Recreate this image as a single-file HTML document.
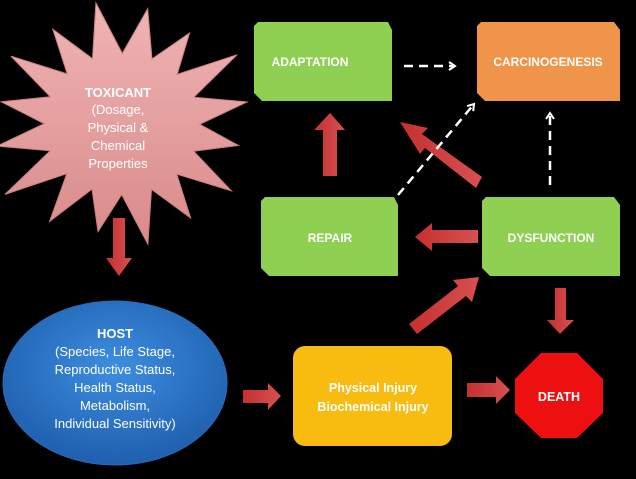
<!DOCTYPE html>
<html><head><meta charset="utf-8"><style>
html,body{margin:0;padding:0;background:#000;width:636px;height:479px;overflow:hidden}
svg{display:block}
text{font-family:"Liberation Sans",sans-serif;fill:#fff;text-anchor:middle}
.b{font-weight:bold}
.n{font-weight:normal}
</style></head><body>
<svg width="636" height="479" viewBox="0 0 636 479" xmlns="http://www.w3.org/2000/svg">
<defs>
<linearGradient id="pk" x1="0" y1="0" x2="0" y2="1"><stop offset="0" stop-color="#f0b4b4"/><stop offset="1" stop-color="#d98a8a"/></linearGradient>
<radialGradient id="bl" cx="0.5" cy="0.4" r="0.6"><stop offset="0" stop-color="#3d8ee0"/><stop offset="1" stop-color="#1f5fae"/></radialGradient>
<linearGradient id="ar" x1="0" y1="0" x2="1" y2="0"><stop offset="0" stop-color="#c43030"/><stop offset="1" stop-color="#d85050"/></linearGradient>
<marker id="wh" markerWidth="10" markerHeight="10" refX="7" refY="5" orient="auto" markerUnits="userSpaceOnUse"><path d="M1,1 L7,5 L1,9" fill="none" stroke="#fff" stroke-width="2"/></marker>
</defs>
<polygon id="star" fill="url(#pk)" stroke="#c98080" stroke-width="1"/>
<text class="b" x="118" y="97" font-size="13">TOXICANT</text>
<text class="n" x="118" y="114" font-size="13">(Dosage,</text>
<text class="n" x="118" y="132" font-size="13">Physical &amp;</text>
<text class="n" x="118" y="150" font-size="13">Chemical</text>
<text class="n" x="118" y="168" font-size="13">Properties</text>

<ellipse cx="115" cy="383" rx="112" ry="82" fill="url(#bl)" stroke="#2a6cbc"/>
<text class="b" x="115" y="338" font-size="13">HOST</text>
<text class="n" x="115" y="356" font-size="13">(Species, Life Stage,</text>
<text class="n" x="115" y="374" font-size="13">Reproductive Status,</text>
<text class="n" x="115" y="392" font-size="13">Health Status,</text>
<text class="n" x="115" y="410" font-size="13">Metabolism,</text>
<text class="n" x="115" y="428" font-size="13">Individual Sensitivity)</text>

<g>
<polygon points="258,22 388,22 392,30 392,101 262,101 254,93 254,26" fill="#8fcf52"/>
<text class="b" x="310" y="66" font-size="12">ADAPTATION</text>
<polygon points="481,22 614,22 620,30 620,101 485,101 477,93 477,26" fill="#f0944a"/>
<text class="b" x="548" y="66" font-size="12">CARCINOGENESIS</text>
<polygon points="265,197 394,197 398,205 398,276 269,276 261,268 261,201" fill="#8fcf52"/>
<text class="b" x="330" y="242" font-size="12">REPAIR</text>
<polygon points="486,197 614,197 620,205 620,276 490,276 482,268 482,201" fill="#8fcf52"/>
<text class="b" x="551" y="242" font-size="12">DYSFUNCTION</text>
</g>
<rect x="293" y="346" width="159" height="100" rx="12" fill="#f8bb10"/>
<text class="b" x="373" y="392" font-size="12.5">Physical Injury</text>
<text class="b" x="373" y="411" font-size="12.5">Biochemical Injury</text>
<polygon points="541,353 577,353 603,379 603,413 577,438 541,438 515,413 515,379" fill="#ee1010"/>
<text class="b" x="559" y="401" font-size="12.5">DEATH</text>

<g fill="url(#ar)">
<polygon points="113,218 125,218 125,258 132,258 119,276 106,258 113,258"/>
<polygon points="243,390 268,390 268,383 281,396 268,410 268,403 243,403"/>
<polygon points="467,383 496,383 496,376 510,390 496,404 496,397 467,397"/>
<polygon points="555,288 566,288 566,320 574,320 560,334 547,320 555,320"/>
<polygon points="323,176 337,176 337,130 345,130 330,113 314,130 323,130"/>
<polygon points="478,230 478,243 432,243 432,251 415,237 432,223 432,230"/>
<polygon points="417,334 409,324 458,286 453,280 479,277 472,302 466,296"/>
<polygon points="482,177 476,188 425,148 420,154 400,122 428,128 422,134"/>
</g>
<g stroke="#fff" stroke-width="2.5" stroke-dasharray="9,6" fill="none" marker-end="url(#wh)">
<line x1="404" y1="66" x2="455" y2="66"/>
<line x1="398" y1="195" x2="474" y2="104"/>
<line x1="550" y1="185" x2="550" y2="113"/>
</g>
</svg>
<script>
var cx=122,cy=124,n=16,p=[];
var outer=[120,112,128,118,110,122,115,125,112,120,130,118,114,124,116,126];
for(var i=0;i<n*2;i++){var a=-Math.PI/2+i*Math.PI/n+0.2;var r=i%2?72:outer[i/2];p.push((cx+r*Math.cos(a)*1.08).toFixed(1)+","+(cy+r*Math.sin(a)*0.98).toFixed(1));}
document.getElementById("star").setAttribute("points",p.join(" "));
</script>
</body></html>
